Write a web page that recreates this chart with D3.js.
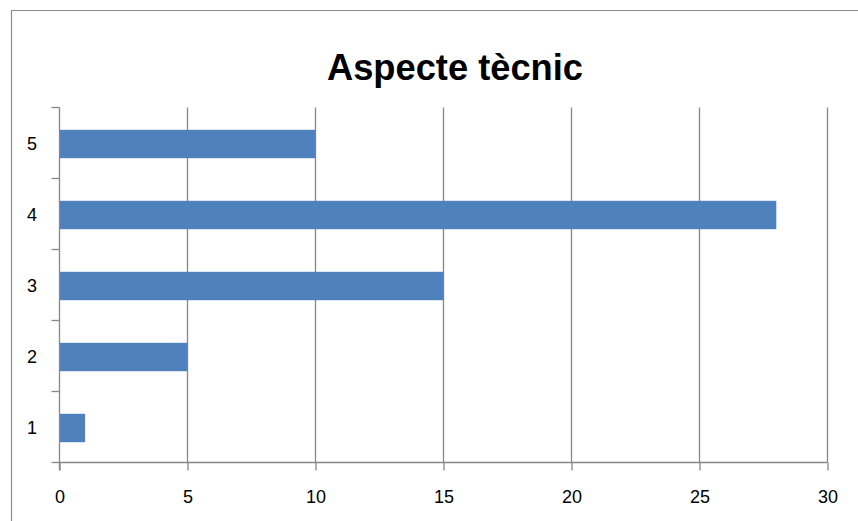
<!DOCTYPE html>
<html>
<head>
<meta charset="utf-8">
<script src="https://cdn.jsdelivr.net/npm/d3@7"></script>
<style>
  html, body { margin: 0; padding: 0; background: #fff; }
  svg { display: block; }
</style>
</head>
<body>
<svg id="chart" width="858" height="521"></svg>
<script>
const categories = ["1", "2", "3", "4", "5"];
const values = [1, 5, 15, 28, 10];
const xTicks = [0, 5, 10, 15, 20, 25, 30];
const title = "Aspecte tècnic";

const svg = d3.select("#chart");
const W = 858, H = 521;
const plot = { left: 59.5, right: 827.5, top: 107.5, bottom: 462.5 };
const gridColor = "#878787";
const barColor = "#4F81BD";
const font = "'Liberation Sans', Arial, sans-serif";

// chart border (only left/top visible in crop)
svg.append("path")
  .attr("d", `M11.5,${H} L11.5,10.5 L${W},10.5`)
  .attr("fill", "none")
  .attr("stroke", "#8c8c8c")
  .attr("stroke-width", 1.2);

const x = d3.scaleLinear().domain([0, 30]).range([plot.left, plot.right]);
const y = d3.scaleBand()
  .domain(categories.slice().reverse())
  .range([plot.top, plot.bottom])
  .paddingInner(0.6)
  .paddingOuter(0.3);

// vertical gridlines
svg.append("g")
  .selectAll("line")
  .data(xTicks.slice(1))
  .join("line")
  .attr("x1", d => x(d)).attr("x2", d => x(d))
  .attr("y1", plot.top).attr("y2", plot.bottom)
  .attr("stroke", gridColor)
  .attr("stroke-width", 1.3);

// bars
svg.append("g")
  .selectAll("rect")
  .data(categories.map((c, i) => ({ c, v: values[i] })))
  .join("rect")
  .attr("x", x(0))
  .attr("y", d => y(d.c) + 1)
  .attr("width", d => x(d.v) - x(0))
  .attr("height", y.bandwidth())
  .attr("fill", barColor);

// x axis
const xAxis = d3.axisBottom(x).tickValues(xTicks).tickSize(8).tickPadding(20)
  .tickFormat(d3.format("d"));
const gx = svg.append("g")
  .attr("transform", `translate(0,${plot.bottom})`)
  .call(xAxis);
gx.select(".domain").attr("stroke", gridColor).attr("stroke-width", 1.3)
  .attr("d", `M${plot.left},0H${plot.right}`);
gx.selectAll(".tick line").attr("stroke", gridColor).attr("stroke-width", 1.3);
gx.selectAll(".tick text")
  .attr("font-family", font).attr("font-size", 18).attr("fill", "#000");

// y axis: category labels at band centres, ticks at band boundaries
const yBoundary = d3.scaleLinear().domain([0, categories.length]).range([plot.bottom, plot.top]);
const gy = svg.append("g");
gy.append("line")
  .attr("x1", plot.left).attr("x2", plot.left)
  .attr("y1", plot.top).attr("y2", plot.bottom + 8)
  .attr("stroke", gridColor).attr("stroke-width", 1.3);
gy.selectAll("line.tick")
  .data(d3.range(categories.length + 1))
  .join("line")
  .attr("class", "tick")
  .attr("x1", plot.left - 8).attr("x2", plot.left)
  .attr("y1", d => yBoundary(d)).attr("y2", d => yBoundary(d))
  .attr("stroke", gridColor).attr("stroke-width", 1.3);
gy.selectAll("text")
  .data(categories)
  .join("text")
  .attr("x", 37)
  .attr("y", d => y(d) + y.bandwidth() / 2 + 1)
  .attr("dy", "0.35em")
  .attr("text-anchor", "end")
  .attr("font-family", font)
  .attr("font-size", 18)
  .attr("fill", "#000")
  .text(d => d);

// title
svg.append("text")
  .attr("x", 455)
  .attr("y", 80)
  .attr("text-anchor", "middle")
  .attr("font-family", font)
  .attr("font-weight", "bold")
  .attr("font-size", 36)
  .attr("textLength", 256)
  .attr("lengthAdjust", "spacingAndGlyphs")
  .attr("fill", "#000")
  .text(title);
</script>
</body>
</html>
